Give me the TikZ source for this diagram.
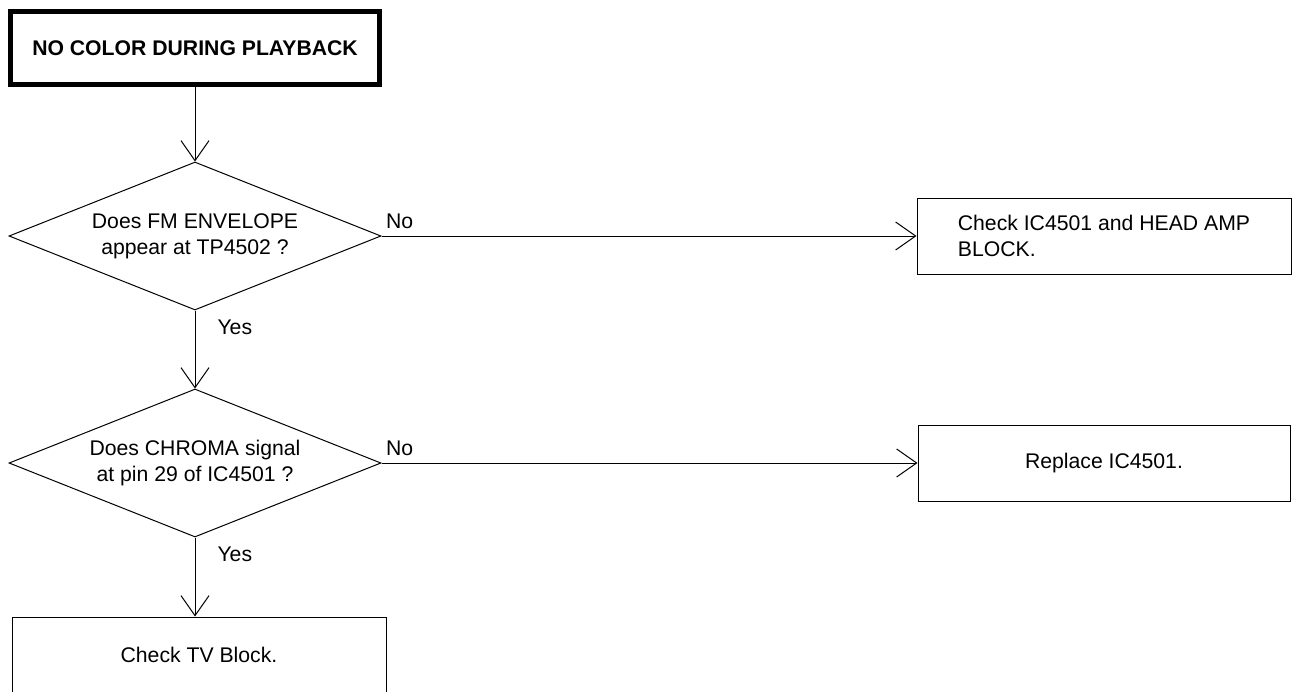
\documentclass[tikz,border=0pt]{standalone}
\usepackage{fontspec}
\setmainfont{Liberation Sans}
\usepackage{tikz}
\usetikzlibrary{shapes.geometric, arrows.meta, positioning}

\tikzset{
  startbox/.style={draw, line width=5pt, minimum width=369pt, minimum height=73pt, inner sep=0pt},
  stepbox/.style={draw, minimum width=374pt, minimum height=76pt, inner sep=0pt, align=left},
  decision/.style={draw, diamond, aspect=2.5, minimum width=372pt, minimum height=148pt, inner sep=0pt, align=center},
  nolabel/.style={pos=0, anchor=base west, inner sep=0pt, xshift=4pt, yshift=8pt},
  yeslabel/.style={pos=0, anchor=north west, inner sep=0pt, xshift=22pt, yshift=-9pt},
}

\begin{document}
\begin{tikzpicture}[x=1pt, y=-1pt, line width=1pt,
    font=\fontsize{21.2}{26}\selectfont,
    >={Straight Barb[length=20pt, width=28pt]}]
  \useasboundingbox (0,0) rectangle (1293,691);
  \clip (0,0) rectangle (1293,691);

  % boxes and questions, placed at pixel positions
  \node[startbox] (start) at (195,48) {\bfseries NO COLOR DURING PLAYBACK};
  \node[decision] (fmenv) at (195,236) {Does FM ENVELOPE\\appear at TP4502 ?};
  \node[stepbox, minimum width=374pt] (headamp) at (1104,236) {Check IC4501 and HEAD AMP\\BLOCK.};
  \node[decision] (chroma) at (195,463) {Does CHROMA signal\\at pin 29 of IC4501 ?};
  \node[stepbox, minimum width=372pt] (replace) at (1104,463) {Replace IC4501.};
  \node[stepbox] (tvblock) at (199,655) {Check TV Block.};

  % connectors
  \draw[->] (start) -- (fmenv);
  \draw[->] (fmenv.east) -- node[nolabel] {No} (headamp);
  \draw[->] (fmenv.south) -- node[yeslabel] {Yes} (chroma.north);
  \draw[->] (chroma.east) -- node[nolabel] {No} (replace);
  \draw[->] (chroma.south) -- node[yeslabel] {Yes} (chroma.south |- tvblock.north);
\end{tikzpicture}
\end{document}
